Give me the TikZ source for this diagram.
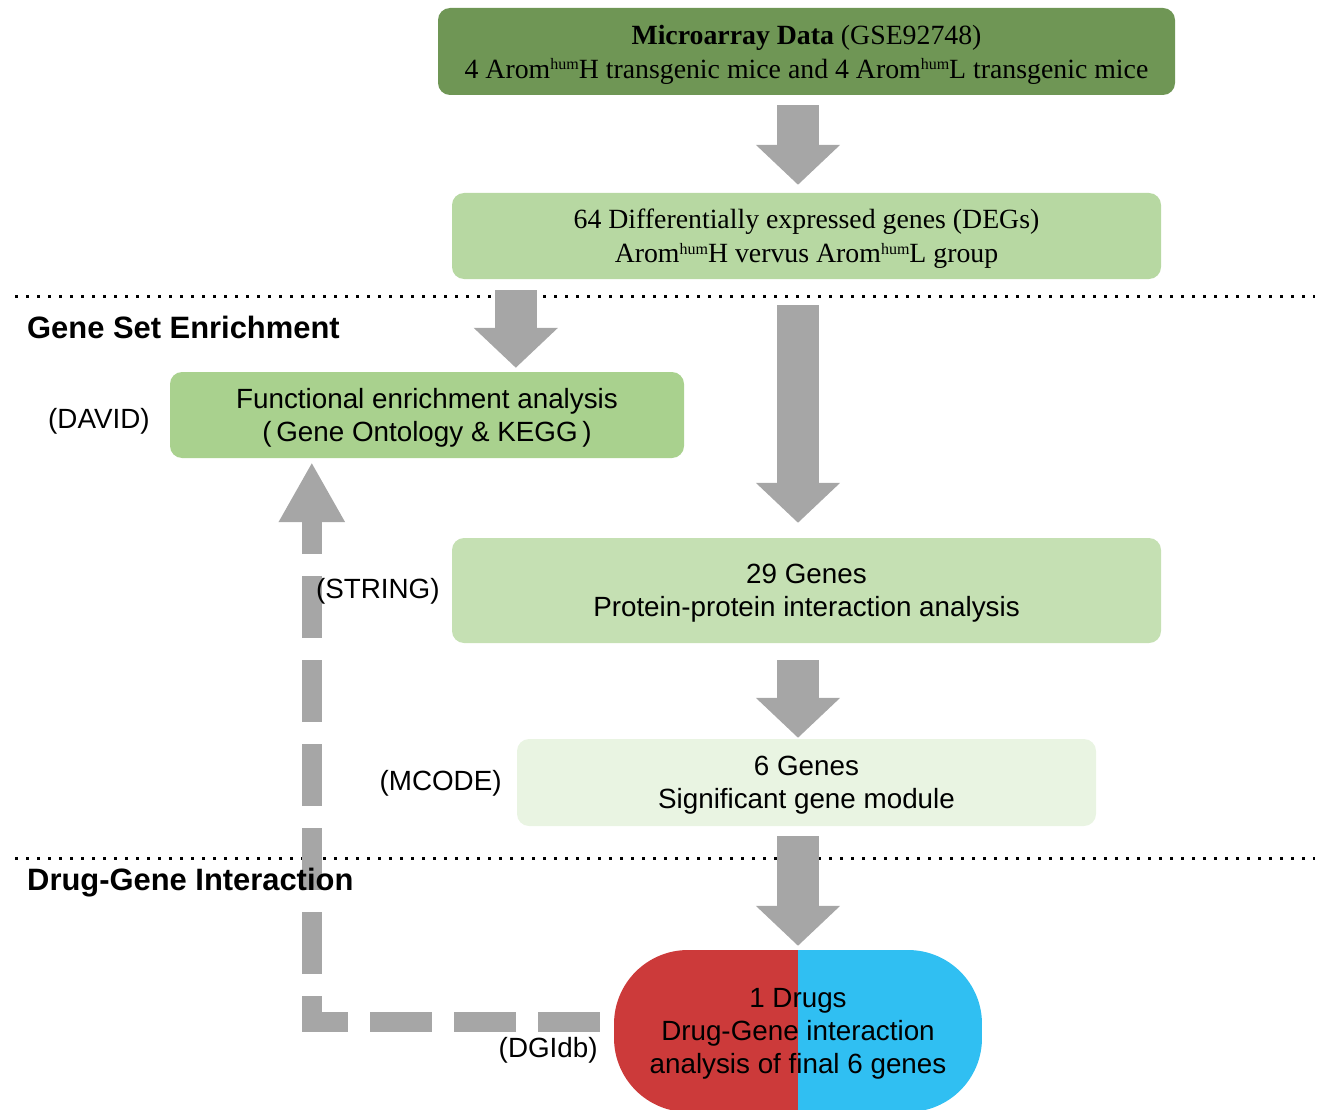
\documentclass[tikz,border=0pt]{standalone}
\usepackage{fontspec}
\setmainfont{Liberation Serif}
\setsansfont{Liberation Sans}
\usetikzlibrary{positioning, arrows.meta}
\definecolor{darkgreen}{HTML}{6F9655}
\definecolor{deggreen}{HTML}{B7D8A2}
\definecolor{feagreen}{HTML}{A9D18E}
\definecolor{ppigreen}{HTML}{C5E0B3}
\definecolor{modgreen}{HTML}{E9F4E2}
\definecolor{pillred}{HTML}{CC3A3A}
\definecolor{pillcyan}{HTML}{30BFF2}
\definecolor{arrowgray}{HTML}{A6A6A6}
\newcommand\Hum{\raisebox{0.3em}{\fontsize{16}{16}\selectfont hum}}

\begin{document}
\begin{tikzpicture}[x=1pt, y=-1pt,
    box/.style={rounded corners=12pt, align=center, inner sep=0pt, text depth=0pt,
      font=\sffamily\fontsize{27.8}{33.5}\selectfont},
    serifbox/.style={box, font=\rmfamily\fontsize{27.8}{34}\selectfont},
    lbl/.style={font=\sffamily\fontsize{27.8}{33.5}\selectfont, inner sep=0pt},
    section/.style={anchor=west, inner sep=0pt, font=\sffamily\bfseries\fontsize{30.9}{36}\selectfont},
    sep/.style={line width=3pt, dash pattern=on 3pt off 8pt},
    blockarrow/.style={arrowgray, line width=42pt, -{Triangle[length=40pt, width=82pt]}},
    dasharrow/.style={arrowgray, line width=20pt, dash pattern=on 62pt off 22pt,
      -{Triangle[length=60pt, width=62pt]}},
    pill/.style={minimum width=368pt, minimum height=162pt, rounded corners=74pt,
      inner sep=0pt, align=center, text depth=0pt, font=\sffamily\fontsize{27.8}{33}\selectfont,
      path picture={
        \fill[pillred, sharp corners] (path picture bounding box.south west) rectangle (path picture bounding box.north);
        \fill[pillcyan, sharp corners] (path picture bounding box.south) rectangle (path picture bounding box.north east);
      }}]
  \useasboundingbox (0,0) rectangle (1317,1110);

  % section separators
  \foreach \y in {296,858}{
    \draw[sep] (15,\y) -- (1315,\y);
  }

  % boxes
  \node[serifbox, fill=darkgreen, minimum width=737pt, minimum height=87pt] (top) at (806.5,51.5)
    {\textbf{Microarray Data} (GSE92748)\\4 Arom\Hum H transgenic mice and 4 Arom\Hum L transgenic mice};
  \node[serifbox, fill=deggreen, minimum width=709pt, minimum height=86pt] (deg) at (806.5,236)
    {64 Differentially expressed genes (DEGs)\\Arom\Hum H vervus Arom\Hum L group};
  \node[box, fill=feagreen, minimum width=514pt, minimum height=86pt] (fea) at (427,415)
    {Functional enrichment analysis\\(\,Gene Ontology \& KEGG\,)};
  \node[box, fill=ppigreen, minimum width=709pt, minimum height=105pt] (ppi) at (806.5,590.5)
    {29 Genes\\Protein-protein interaction analysis};
  \node[box, fill=modgreen, minimum width=579pt, minimum height=87pt] (mod) at (806.5,782.5)
    {6 Genes\\Significant gene module};
  \node[pill] (pill) at (798,1031)
    {1 Drugs\\Drug-Gene interaction\\analysis of final 6 genes};

  % flow arrows
  \coordinate (split) at ([xshift=64pt,yshift=-11pt]deg.south west);
  \draw[dasharrow] ([xshift=-14pt,yshift=9pt]pill.west) -| ([xshift=142pt,yshift=-4pt]fea.south west);
  \draw[blockarrow] ([yshift=-10pt]top.south -| pill.north) -- ([yshift=8pt]deg.north -| pill.north);
  \draw[blockarrow] (split) -- ([yshift=4pt]split |- fea.north);
  \draw[blockarrow] ([yshift=-26pt]deg.south -| pill.north) -- ([yshift=15pt]ppi.north -| pill.north);
  \draw[blockarrow] ([yshift=-17pt]ppi.south -| pill.north) -- ([yshift=1pt]mod.north -| pill.north);
  \draw[blockarrow] ([yshift=-10pt]mod.south -| pill.north) -- ([yshift=4pt]pill.north);

  % section titles
  \node[section] (gse) at (27,327) {Gene Set Enrichment};
  \node[section] (dgi) at (27,883) {Drug-Gene Interaction};

  % tool labels
  \node[lbl, left=20pt of fea, yshift=-6pt] (david) {(DAVID)};
  \node[lbl, left=12pt of ppi, yshift=-1pt] (string) {(STRING)};
  \node[lbl, left=15pt of mod, yshift=-1pt] (mcode) {(MCODE)};
  \node[lbl, left=16pt of pill.west, yshift=-19pt] (dgidb) {(DGIdb)};
\end{tikzpicture}
\end{document}
